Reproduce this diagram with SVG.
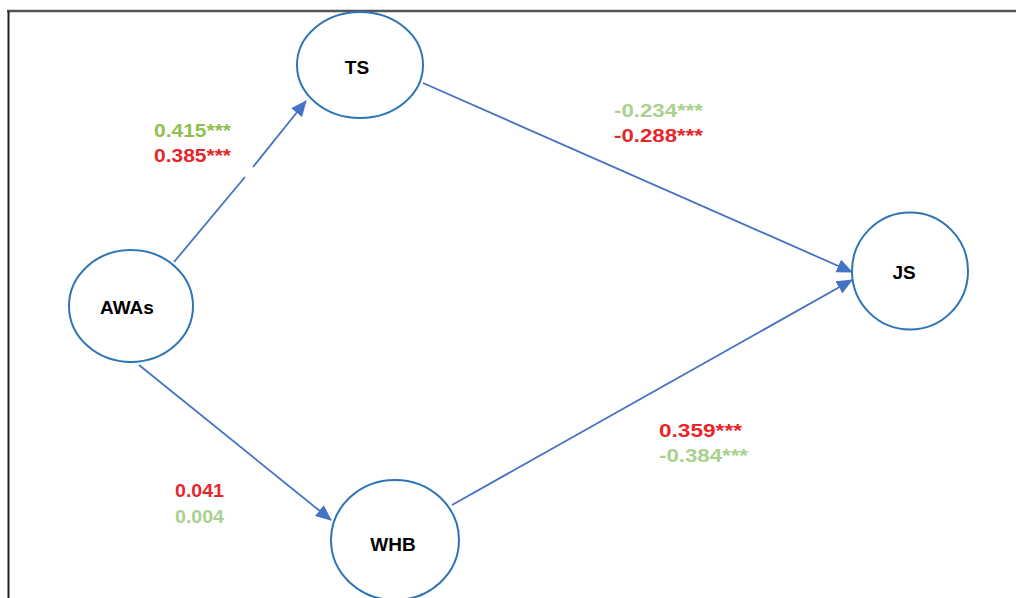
<svg xmlns="http://www.w3.org/2000/svg" width="1016" height="598" viewBox="0 0 1016 598">
  <style>
    .node { fill: #ffffff; stroke: #2e75b6; stroke-width: 2; }
    .label { font-family: "Liberation Sans", Arial, sans-serif; font-weight: bold; font-size: 19px; fill: #000000; text-anchor: middle; }
    .coef { font-family: "Liberation Sans", Arial, sans-serif; font-weight: bold; font-size: 19px; }
    .g1 { fill: #92c050; }
    .g2 { fill: #a9d18e; }
    .red { fill: #e8262a; }
    .edge { fill: none; stroke: #4472c4; stroke-width: 1.8; }
    .frame { stroke: #555555; stroke-width: 2.5; fill: none; }
  </style>
  <defs>
    <marker id="arrow" markerUnits="userSpaceOnUse" markerWidth="16" markerHeight="14" refX="15" refY="7" orient="auto">
      <path d="M0,0 L16,7 L0,14 Z" fill="#4472c4"/>
    </marker>
  </defs>

  <rect x="0" y="0" width="1016" height="598" fill="#ffffff"/>

  <!-- page frame -->
  <path class="frame" d="M7,11 H1016"/>
  <path d="M8.5,11 V598" stroke="#222222" stroke-width="2" fill="none"/>

  <!-- connectors -->
  <g id="connectors">
    <line class="edge" x1="174" y1="262" x2="245" y2="177"/>
    <line class="edge" x1="253" y1="167" x2="306" y2="101" marker-end="url(#arrow)"/>
    <line class="edge" x1="423" y1="83" x2="852" y2="272" marker-end="url(#arrow)"/>
    <line class="edge" x1="452" y1="505" x2="852" y2="280" marker-end="url(#arrow)"/>
    <line class="edge" x1="139" y1="365" x2="331" y2="520" marker-end="url(#arrow)"/>
  </g>

  <!-- nodes -->
  <g id="node-ts">
    <ellipse class="node" cx="360" cy="65" rx="63" ry="53"/>
    <text class="label" x="357" y="74">TS</text>
  </g>
  <g id="node-awas">
    <ellipse class="node" cx="131" cy="306" rx="62" ry="56"/>
    <text class="label" x="127" y="314">AWAs</text>
  </g>
  <g id="node-js">
    <ellipse class="node" cx="910" cy="271" rx="58" ry="58.5"/>
    <text class="label" x="904" y="279">JS</text>
  </g>
  <g id="node-whb">
    <ellipse class="node" cx="395" cy="540" rx="64" ry="60"/>
    <text class="label" x="393" y="551">WHB</text>
  </g>

  <!-- path coefficients -->
  <g id="coefficients">
    <text class="coef g1" x="154" y="137" textLength="77" lengthAdjust="spacingAndGlyphs">0.415***</text>
    <text class="coef red" x="154" y="162" textLength="77" lengthAdjust="spacingAndGlyphs">0.385***</text>
    <text class="coef g2" x="614" y="117" textLength="89" lengthAdjust="spacingAndGlyphs">-0.234***</text>
    <text class="coef red" x="614" y="142" textLength="89" lengthAdjust="spacingAndGlyphs">-0.288***</text>
    <text class="coef red" x="659" y="437" textLength="83" lengthAdjust="spacingAndGlyphs">0.359***</text>
    <text class="coef g2" x="659" y="462" textLength="89" lengthAdjust="spacingAndGlyphs">-0.384***</text>
    <text class="coef red" x="175" y="497" textLength="49" lengthAdjust="spacingAndGlyphs">0.041</text>
    <text class="coef g2" x="175" y="523" textLength="49" lengthAdjust="spacingAndGlyphs">0.004</text>
  </g>
</svg>
